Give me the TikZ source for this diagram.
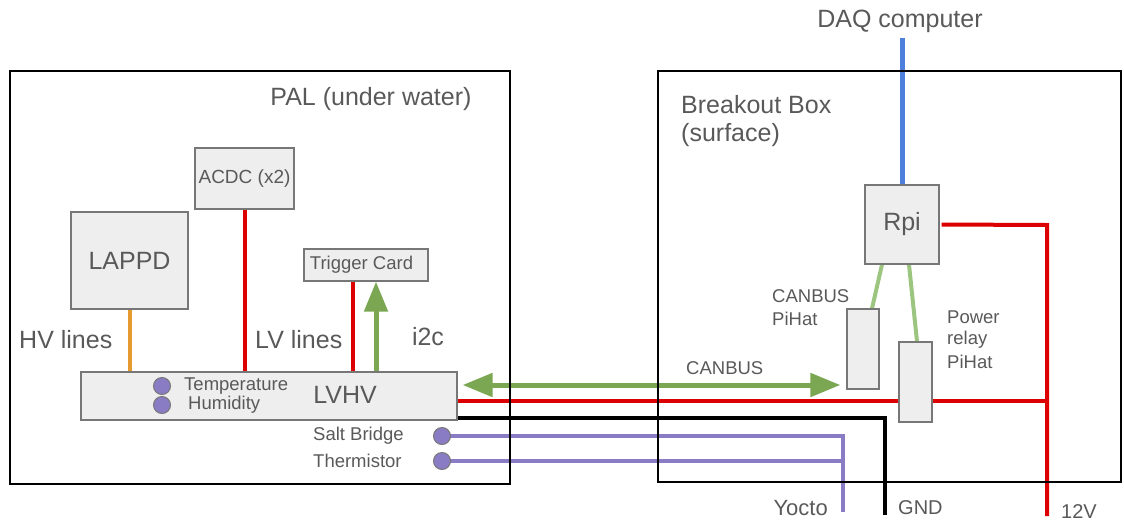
\documentclass[tikz,border=0pt]{standalone}
\usepackage{fontspec}
\setmainfont{Liberation Sans}
\usetikzlibrary{arrows.meta,backgrounds}
\definecolor{txt}{HTML}{595959}
\definecolor{boxfill}{HTML}{EEEEEE}
\definecolor{boxline}{HTML}{777777}
\definecolor{wred}{HTML}{DD0000}
\definecolor{worange}{HTML}{E69B30}
\definecolor{wgreen}{HTML}{7BA753}
\definecolor{lgreen}{HTML}{9CC67F}
\definecolor{wpurple}{HTML}{8A7CC4}
\definecolor{wblue}{HTML}{4F7FDD}
\tikzset{
 big/.style={font=\fontsize{25}{30}\selectfont, text=txt, inner sep=0pt},
 mid/.style={font=\fontsize{20}{24}\selectfont, text=txt, inner sep=0pt},
 small/.style={font=\fontsize{18.5}{22}\selectfont, text=txt, inner sep=0pt},
 frame/.style={draw=black, line width=2.5pt, inner sep=0pt},
 unit/.style={draw=boxline, fill=boxfill, line width=1.2pt, inner sep=0pt},
 wire/.style={line width=4pt},
 dot/.style={circle, draw=boxline, fill=wpurple, line width=1pt, minimum size=17pt, inner sep=0pt},
 bigtip/.style={-{Triangle[width=23pt,length=30pt]}},
}
\begin{document}
\begin{tikzpicture}[x=1pt,y=-1pt]
\useasboundingbox (0,0) rectangle (1124,525);
% frames
\node[frame, minimum width=500pt, minimum height=413pt] (pal) at (260,277.5) {};
\node[frame, minimum width=463pt, minimum height=411pt] (bob) at (889.5,276.5) {};
\node[big] (paltxt) at (371,99) {PAL (under water)};
\node[big, anchor=west] (bobtxt1) at (681,105) {Breakout Box};
\node[big, anchor=west] (bobtxt2) at (681,135) {(surface)};
% units
\node[unit, minimum width=376pt, minimum height=48pt] (lvhv) at (269,396) {};
\node[big] (lvhvtxt) at (345,395) {LVHV};
\node[unit, minimum width=117pt, minimum height=97pt, big] (lappd) at (129.5,260.5) {LAPPD};
\node[unit, minimum width=99pt, minimum height=61pt, small, font=\fontsize{19}{23}\selectfont] (acdc) at (244.5,178.5) {ACDC (x2)};
\node[unit, minimum width=124pt, minimum height=32pt] (trig) at (366,265) {};
\node[small] (trigtxt) at (361.5,265) {Trigger Card};
\node[unit, minimum width=74pt, minimum height=79pt, big] (rpi) at (902,224.5) {Rpi};
\node[unit, minimum width=32pt, minimum height=80pt] (canhat) at (863,349) {};
\node[unit, minimum width=33pt, minimum height=80pt] (relay) at (915.5,382) {};
% dots
\node[dot] (t1) at (162,386) {};
\node[dot] (t2) at (162,405) {};
\node[dot] (sb) at (442,436) {};
\node[dot] (th) at (442,461) {};
% labels
\node[big, anchor=west] (hvl) at (19,340) {HV lines};
\node[big, anchor=west] (lvl) at (255,340) {LV lines};
\node[big] (i2c) at (428,337) {i2c};
\node[small, anchor=west] (tmp) at (184,386) {Temperature};
\node[small, anchor=west] (hum) at (188,405) {Humidity};
\node[small, anchor=west] (sbt) at (313,436) {Salt Bridge};
\node[small, anchor=west] (tht) at (313,461) {Thermistor};
\node[small, anchor=west] (cant) at (686,368) {CANBUS};
\node[small, anchor=west] (ch1) at (772,296) {CANBUS};
\node[small, anchor=west] (ch2) at (772,319) {PiHat};
\node[small, anchor=west] (pr1) at (947,317) {Power};
\node[small, anchor=west] (pr2) at (947,340) {relay};
\node[small, anchor=west] (pr3) at (947,362) {PiHat};
\node[big] (daq) at (900,21) {DAQ computer};
\node[font=\fontsize{22}{26}\selectfont, text=txt, inner sep=0pt, anchor=east] (yocto) at (828,508) {Yocto};
\node[mid, anchor=west] (gnd) at (898,508) {GND};
\node[mid, anchor=west] (v12) at (1061,512) {12V};
% free-end coordinates
\coordinate (daqend) at (902,38);
\coordinate (yend) at (843,512);
\coordinate (gend) at (885,515);
\coordinate (vend) at (1047,516);
\coordinate (vtop) at (1047,225);
\coordinate (ytop) at (843,436);
\coordinate (gtop) at (885,418);
\coordinate (canL) at ([shift={(5pt,11pt)}]lvhv.east);
\coordinate (redL) at ([yshift=-5pt]lvhv.east);
\coordinate (blkL) at ([yshift=-22pt]lvhv.east);
\begin{scope}[on background layer]
 % PAL internal wires
 \draw[wire, worange] (lappd.south) -- (lappd.south |- lvhv.north);
 \draw[wire, wred] (acdc.south) -- (acdc.south |- lvhv.north);
 \draw[wire, wred] ([xshift=-13pt]trig.south) -- ([xshift=-13pt]trig.south |- lvhv.north);
 \draw[line width=5pt, wgreen, bigtip] ([xshift=10pt]trig.south |- lvhv.north) -- ([xshift=10pt]trig.south);
 % CANBUS
 \draw[line width=5pt, wgreen, {Triangle[width=23pt,length=30pt]}-{Triangle[width=23pt,length=30pt]}] (canL) -- ([xshift=-6pt]canL -| canhat.west);
 % power
 \draw[wire, wred] (redL) -- (redL -| vtop);
 \draw[wire, wred] ([xshift=2pt]rpi.east) -- (vtop) -- (vend);
 % ground
 \draw[wire, black] (blkL) -- (gtop) -- (gend);
 % yocto
 \draw[wire, wpurple] (sb.center) -- (ytop) -- (yend);
 \draw[wire, wpurple] (th.center) -- (th.center -| ytop);
 % Rpi links
 \draw[line width=5pt, wblue] (rpi.north) -- (daqend);
 \draw[wire, lgreen] ([xshift=-20pt]rpi.south) -- ([xshift=9pt]canhat.north);
 \draw[wire, lgreen] ([xshift=7pt]rpi.south) -- ([xshift=1.5pt]relay.north);
\end{scope}
\end{tikzpicture}
\end{document}
